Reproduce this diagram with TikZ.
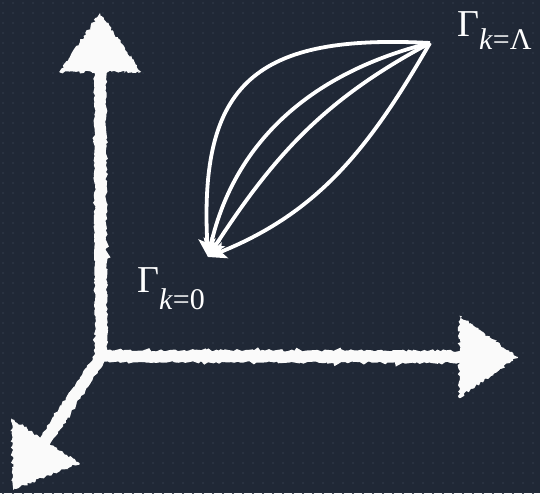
\documentclass[tikz,border=0pt]{standalone}
\usepackage{fontspec}
\setmainfont{Liberation Serif}
\usepackage{xcolor}
\usepackage{tikz}
\usetikzlibrary{arrows.meta,calc,decorations.pathmorphing}
\definecolor{boardbg}{RGB}{32,40,54}
\definecolor{boarddot}{RGB}{45,54,70}
\definecolor{chalkwhite}{RGB}{250,250,250}

\begin{document}
\begin{tikzpicture}[x=1pt,y=1pt,
    chalk/.style={draw=chalkwhite, line width=11.5pt, line cap=round, decorate,
      decoration={random steps, segment length=2.5pt, amplitude=1.1pt}},
    chalkhead/.style={fill=chalkwhite, decorate,
      decoration={random steps, segment length=2pt, amplitude=1.4pt}},
    flow/.style={draw=white, line width=3.8pt, -{Stealth[length=18pt, width=17pt, inset=4pt]}},
    gammalabel/.style={text=white, inner sep=0pt, font=\fontsize{38}{42}\selectfont}]
  % board
  \fill[boardbg] (0,0) rectangle (540,493);
  \useasboundingbox (0,0) rectangle (540,493);
  \foreach \i in {0,...,53}
    \foreach \j in {0,...,49}
      \fill[boarddot] (3+10*\i,490-10*\j) circle (1.1);

  % axes
  \coordinate (origin) at (101,137);
  \coordinate (ytip) at (100,480);
  \coordinate (xtip) at (518,136);
  \coordinate (ztip) at (13,3);
  \foreach \t in {ytip,xtip,ztip}{
    \coordinate (\t base) at ($(\t)!59pt!(origin)$);
    \draw[chalk] (origin) -- (\t base);
    \fill[chalkhead] (\t) -- ($(\t base)!41pt!90:(\t)$) -- ($(\t base)!41pt!-90:(\t)$) -- cycle;
  }

  % flows
  \coordinate (kL) at (430,450);
  \coordinate (k0) at (208,236);
  \draw[flow] (kL) to[out=177, in=93, looseness=1.45] (k0);
  \draw[flow] (kL) to[out=194, in=77] (k0);
  \draw[flow] (kL) to[out=208, in=57] (k0);
  \draw[flow] (kL) to[out=240, in=22] (k0);

  % labels
  \node[gammalabel, anchor=base west] (gLambda) at (457,456)
    {Γ\raisebox{-13pt}{\fontsize{30}{30}\selectfont\textit{k}=Λ}};
  \node[gammalabel, anchor=base west] (gZero) at (137,201)
    {Γ\raisebox{-17pt}{\fontsize{30}{30}\selectfont\textit{k}=0}};
\end{tikzpicture}
\end{document}
